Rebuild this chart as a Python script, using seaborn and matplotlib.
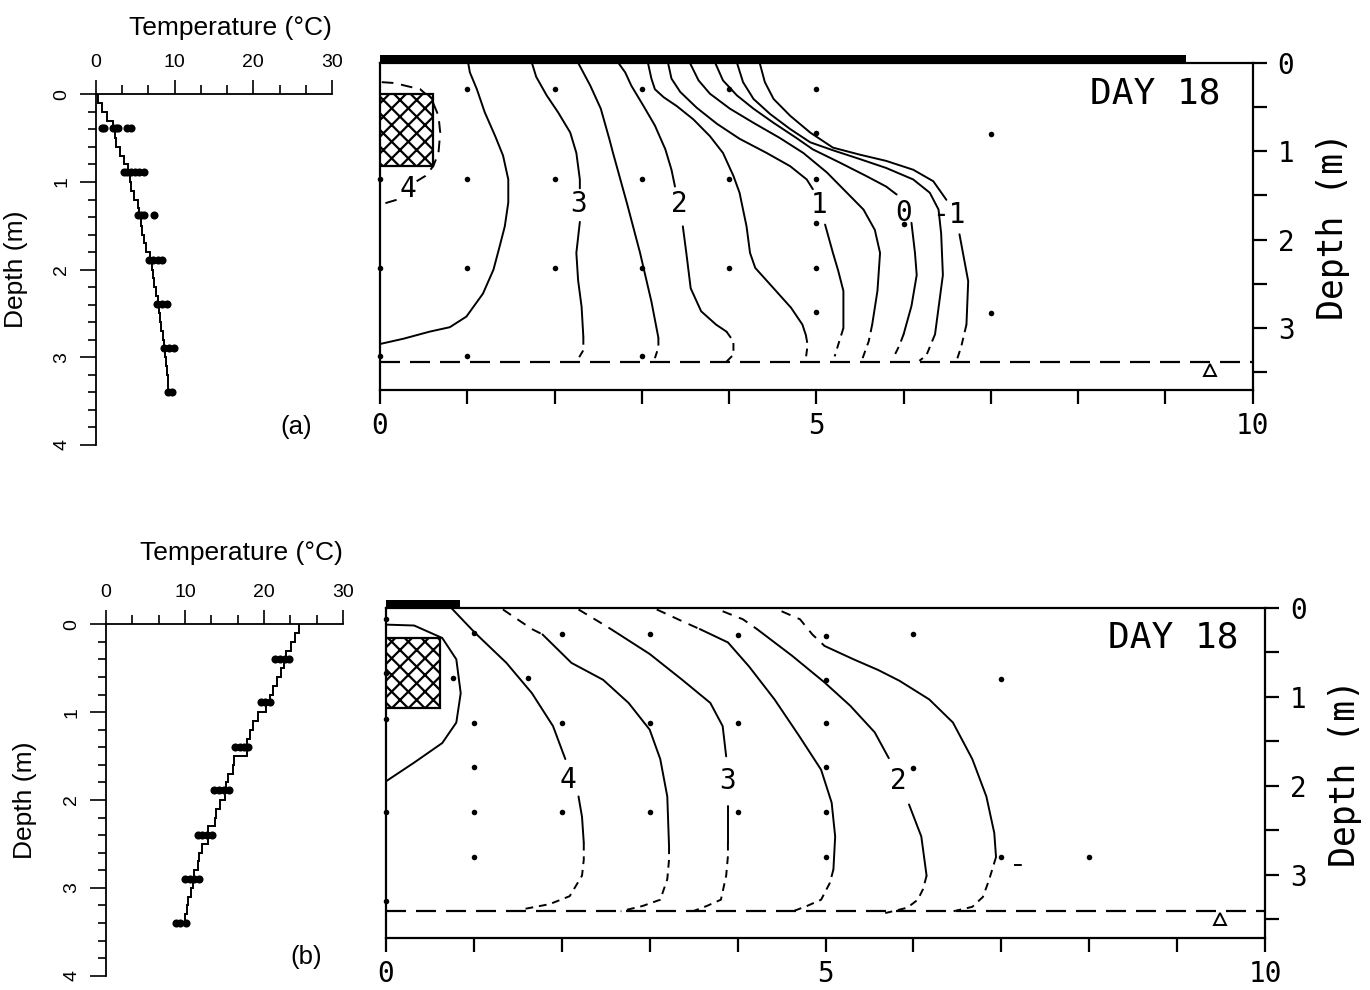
import matplotlib
matplotlib.use('Agg')
import matplotlib.pyplot as plt
import seaborn as sns
from matplotlib.patches import Rectangle
from matplotlib.ticker import MultipleLocator

# ------------------------------------------------------------------ data
# temperature profiles: 0.1 m layers (edges) and layer temperatures
prof_depth_edges = [0.0, 0.1, 0.2, 0.3, 0.4, 0.5, 0.6, 0.7, 0.8, 0.9, 1.0, 1.1, 1.2,
                    1.3, 1.4, 1.5, 1.6, 1.7, 1.8, 1.9, 2.0, 2.1, 2.2, 2.3, 2.4, 2.5,
                    2.6, 2.7, 2.8, 2.9, 3.0, 3.1, 3.2, 3.3, 3.4]
prof_a_temp = [0.2, 0.7, 1.4, 2.2, 2.4, 2.6, 3.1, 3.5, 4.1, 4.3, 4.5, 4.8, 5.3, 5.5,
               5.7, 5.9, 6.1, 6.4, 6.9, 7.1, 7.2, 7.4, 7.6, 7.9, 8.0, 8.1, 8.3, 8.5,
               8.7, 8.8, 8.9, 9.0, 9.1, 9.2]
prof_b_temp = [24.4, 23.9, 23.4, 22.8, 22.5, 22.2, 21.6, 21.2, 20.7, 20.2, 19.3, 18.6,
               18.2, 17.8, 17.8, 16.2, 16.1, 15.5, 15.2, 15.0, 14.4, 13.9, 13.8, 12.9,
               12.9, 12.2, 11.8, 11.7, 11.2, 11.0, 10.8, 10.4, 10.2, 10.0]

# measured temperatures (points) at probe depths
prof_a_levels = [0.39, 0.89, 1.38, 1.89, 2.39, 2.89, 3.39]
prof_a_level_temps = [[0.8, 1.0, 2.1, 2.5, 2.8, 4.0, 4.4],
                      [3.5, 4.0, 4.5, 5.0, 5.5, 6.1],
                      [5.3, 5.7, 6.1, 7.4],
                      [6.8, 7.3, 7.9, 8.4],
                      [7.8, 8.4, 9.0],
                      [8.7, 9.3, 9.9],
                      [9.1, 9.7]]
prof_b_levels = [0.39, 0.89, 1.40, 1.89, 2.40, 2.90, 3.40]
prof_b_level_temps = [[21.4, 22.0, 22.6, 23.2],
                      [19.6, 20.1, 20.7],
                      [16.3, 16.9, 17.5, 18.0],
                      [13.7, 14.3, 14.9, 15.6],
                      [11.6, 12.2, 12.8, 13.4],
                      [10.0, 10.6, 11.2, 11.8],
                      [8.8, 9.4, 10.1]]

# section (a): sensor positions
sec_a_dot_x = [0, 0, 0, 1, 1, 1, 1, 2, 2, 2, 3, 3, 3, 3, 4, 4, 4, 5, 5, 5, 5, 5, 5, 6, 7, 7]
sec_a_dot_d = [1.31, 2.32, 3.31, 0.30, 1.31, 2.32, 3.31, 0.30, 1.31, 2.32, 0.30, 1.31,
               2.32, 3.31, 0.30, 1.31, 2.32, 0.30, 0.80, 1.31, 1.81, 2.32, 2.82, 1.82,
               0.81, 2.83]
# section (b): sensor positions
sec_b_dot_x = [0, 0, 0, 0, 0, 0.76, 1, 1, 1, 1, 1, 1.62, 2, 2, 2, 3, 3, 3, 4, 4, 4,
               5, 5, 5, 5, 5, 5, 6, 6, 7, 7, 8]
sec_b_dot_d = [0.13, 0.73, 1.25, 2.30, 3.30, 0.79, 0.28, 1.30, 1.79, 2.30, 2.80, 0.79,
               0.30, 1.30, 2.30, 0.30, 1.30, 2.30, 0.31, 1.30, 2.30, 0.32, 0.81, 1.30,
               1.79, 2.30, 2.80, 0.30, 1.80, 0.80, 2.80, 2.80]

# section features
cover_a_extent = 9.23
cover_b_extent = 0.84
heater_a = (0.0, 0.61, 0.35, 1.17)   # x0, x1, d0, d1
heater_b = (0.0, 0.62, 0.34, 1.13)
water_a = 3.38
water_b = 3.41
marker_a = (9.51, 3.47)
marker_b = (9.49, 3.50)

# section (a) isotherms: solid pieces and dashed pieces (x, depth)
a_box_dash1 = ([0.02, 0.17, 0.29, 0.46, 0.59, 0.67, 0.69, 0.67, 0.61, 0.52, 0.42],
               [0.22, 0.23, 0.26, 0.30, 0.41, 0.60, 0.79, 1.02, 1.17, 1.28, 1.34])
a_box_dash2 = ([0.19, 0.02], [1.55, 1.60])
a35 = ([1.01, 1.03, 1.11, 1.20, 1.32, 1.41, 1.47, 1.47, 1.43, 1.37, 1.30, 1.18, 0.99,
        0.80, 0.57, 0.27, 0.0],
       [0.0, 0.11, 0.30, 0.56, 0.83, 1.05, 1.32, 1.58, 1.85, 2.08, 2.34, 2.61, 2.87,
        2.99, 3.04, 3.12, 3.18])
a3_s1 = ([1.74, 1.79, 1.91, 2.04, 2.18, 2.25, 2.29, 2.29],
         [0.0, 0.16, 0.37, 0.56, 0.79, 1.02, 1.32, 1.42])
a3_s2 = ([2.29, 2.25, 2.27, 2.31, 2.33], [1.80, 2.15, 2.46, 2.76, 3.10])
a3_d = ([2.33, 2.33, 2.27], [3.10, 3.25, 3.35])
a25_s = ([2.27, 2.41, 2.53, 2.63, 2.67, 2.83, 2.98, 3.02, 3.11, 3.19],
         [0.0, 0.26, 0.52, 0.87, 1.02, 1.59, 2.15, 2.32, 2.70, 3.11])
a25_d = ([3.19, 3.19, 3.15], [3.11, 3.22, 3.34])
a2_s1 = ([2.73, 2.81, 2.88, 3.02, 3.15, 3.27, 3.34, 3.38],
         [0.0, 0.11, 0.26, 0.49, 0.71, 0.98, 1.21, 1.40])
a2_s2 = ([3.47, 3.51, 3.56, 3.68, 3.85, 3.97], [1.85, 2.15, 2.55, 2.81, 2.96, 3.04])
a2_d = ([3.97, 4.05, 4.05, 3.97], [3.04, 3.15, 3.30, 3.38])
a15_s = ([3.07, 3.11, 3.15, 3.25, 3.40, 3.59, 3.78, 3.93, 4.05, 4.12, 4.20, 4.24, 4.30,
          4.51, 4.71, 4.84, 4.88],
         [0.0, 0.18, 0.30, 0.39, 0.49, 0.64, 0.83, 1.02, 1.28, 1.47, 1.85, 2.15, 2.32,
          2.55, 2.77, 2.96, 3.08])
a15_d = ([4.88, 4.90, 4.88], [3.08, 3.19, 3.34])
a1_s1 = ([3.30, 3.34, 3.44, 3.63, 3.86, 4.12, 4.43, 4.70, 4.89, 4.96],
         [0.0, 0.18, 0.33, 0.51, 0.69, 0.86, 1.02, 1.17, 1.32, 1.43])
a1_s2 = ([5.10, 5.19, 5.25, 5.31, 5.31], [1.83, 2.15, 2.35, 2.58, 3.0])
a1_d = ([5.31, 5.25, 5.21], [3.0, 3.19, 3.32])
a05_s = ([3.55, 3.65, 3.78, 4.01, 4.28, 4.58, 4.85, 5.12, 5.35, 5.54, 5.67, 5.73, 5.70,
          5.64],
         [0.0, 0.20, 0.35, 0.52, 0.68, 0.85, 1.02, 1.24, 1.47, 1.66, 1.89, 2.15, 2.58,
          2.96])
a05_d = ([5.64, 5.60, 5.53], [2.96, 3.15, 3.34])
a0_s1 = ([3.84, 3.93, 4.09, 4.28, 4.51, 4.77, 4.96, 5.27, 5.57, 5.80, 5.92],
         [0.0, 0.20, 0.37, 0.52, 0.68, 0.85, 0.98, 1.13, 1.28, 1.40, 1.49])
a0_s2 = ([6.09, 6.13, 6.15, 6.09, 6.0], [1.81, 2.15, 2.40, 2.75, 3.07])
a0_d = ([6.0, 5.95, 5.88], [3.07, 3.20, 3.34])
am05_s = ([4.09, 4.16, 4.28, 4.47, 4.70, 4.93, 5.19, 5.50, 5.80, 6.11, 6.30, 6.40, 6.43,
           6.45, 6.36],
          [0.0, 0.22, 0.41, 0.58, 0.75, 0.90, 0.99, 1.09, 1.19, 1.32, 1.47, 1.66, 1.93,
           2.40, 3.07])
am05_d = ([6.36, 6.26, 6.18], [3.07, 3.31, 3.37])
am1_s1 = ([4.35, 4.41, 4.51, 4.70, 4.93, 5.19, 5.50, 5.80, 6.11, 6.34, 6.49],
          [0.0, 0.22, 0.41, 0.60, 0.79, 0.96, 1.04, 1.11, 1.21, 1.34, 1.55])
am1_s2 = ([6.64, 6.74, 6.72], [1.94, 2.47, 2.96])
am1_d = ([6.72, 6.66, 6.61], [2.96, 3.21, 3.36])
a_labels = ['4', '3', '2', '1', '0', '-1']
a_label_x = [0.32, 2.27, 3.43, 5.03, 6.00, 6.52]
a_label_d = [1.43, 1.60, 1.60, 1.61, 1.70, 1.72]

# section (b) isotherms
b_box = ([0.0, 0.32, 0.64, 0.80, 0.85, 0.80, 0.64, 0.32, 0.0],
         [0.19, 0.20, 0.34, 0.58, 0.96, 1.29, 1.52, 1.74, 1.95])
b1_s1 = ([0.74, 1.01, 1.37, 1.66, 1.90, 2.04], [0.0, 0.28, 0.62, 0.96, 1.33, 1.70])
b1_s2 = ([2.19, 2.23, 2.25], [2.12, 2.35, 2.64])
b1_d = ([2.25, 2.25, 2.23, 2.09, 1.86, 1.54], [2.64, 2.83, 3.01, 3.24, 3.33, 3.39])
b2_d1 = ([1.33, 1.66, 1.78], [0.02, 0.24, 0.30])
b2_s = ([1.78, 2.11, 2.47, 2.76, 3.0, 3.12, 3.20, 3.22],
        [0.30, 0.62, 0.81, 1.07, 1.37, 1.70, 2.12, 2.68])
b2_d2 = ([3.22, 3.22, 3.20, 3.12, 2.92, 2.67], [2.68, 2.83, 3.05, 3.28, 3.35, 3.41])
b3_d1 = ([2.19, 2.51, 2.59], [0.02, 0.21, 0.26])
b3_s1 = ([2.59, 3.0, 3.37, 3.69, 3.83, 3.87], [0.26, 0.52, 0.81, 1.07, 1.33, 1.67])
b3_s2 = ([3.89, 3.89], [2.23, 2.64])
b3_d2 = ([3.89, 3.89, 3.87, 3.81, 3.65, 3.49], [2.64, 2.79, 3.01, 3.28, 3.35, 3.41])
b4_d1 = ([3.08, 3.41, 3.57], [0.02, 0.17, 0.24])
b4_s = ([3.57, 3.89, 4.13, 4.42, 4.70, 4.95, 5.07, 5.11, 5.09],
        [0.24, 0.39, 0.66, 1.03, 1.44, 1.82, 2.19, 2.57, 2.94])
b4_d2 = ([5.09, 5.05, 4.95, 4.79, 4.63], [2.94, 3.09, 3.28, 3.35, 3.41])
b5_d1 = ([3.83, 4.06, 4.22], [0.04, 0.13, 0.24])
b5_s1 = ([4.22, 4.62, 4.99, 5.28, 5.56, 5.72], [0.24, 0.54, 0.84, 1.10, 1.40, 1.69])
b5_s2 = ([5.95, 6.09, 6.15], [2.21, 2.57, 3.01])
b5_d2 = ([6.15, 6.11, 6.05, 5.93, 5.68], [3.01, 3.16, 3.28, 3.37, 3.43])
b6_d1 = ([4.50, 4.71, 4.85, 4.99], [0.04, 0.13, 0.30, 0.43])
b6_s = ([4.99, 5.32, 5.60, 5.84, 6.18, 6.45, 6.67, 6.83, 6.92, 6.94],
        [0.43, 0.58, 0.70, 0.82, 1.03, 1.29, 1.70, 2.12, 2.53, 2.80])
b6_d2 = ([6.94, 6.86, 6.79, 6.67, 6.41], [2.80, 3.06, 3.25, 3.36, 3.42])
b_extra = ([7.15, 7.28], [2.89, 2.89])
b_labels = ['4', '3', '2']
b_label_x = [2.07, 3.89, 5.83]
b_label_d = [1.93, 1.95, 1.95]

day_text = 'DAY 18'

# ------------------------------------------------------------------ style
sns.set_theme(style='white')
plt.rcParams['font.family'] = ['Liberation Sans', 'DejaVu Sans']
for k in ['text.color', 'axes.labelcolor', 'xtick.color', 'ytick.color',
          'axes.edgecolor', 'hatch.color']:
    plt.rcParams[k] = 'black'
plt.rcParams['hatch.linewidth'] = 1.6
MONO = 'DejaVu Sans Mono'

W, H = 1370, 990
fig = plt.figure(figsize=(13.7, 9.9), dpi=100)
fig.patch.set_facecolor('white')


def add_ax(l, r, t, b):
    return fig.add_axes([l / W, 1 - b / H, (r - l) / W, (b - t) / H])


def profile(ax, temps, levels, level_temps, tag, lab_y):
    ax.stairs(temps, prof_depth_edges, orientation='horizontal', baseline=None,
              color='black', lw=1.4)
    px, py = [], []
    for d, ts in zip(levels, level_temps):
        px += ts
        py += [d] * len(ts)
    sns.scatterplot(x=px, y=py, ax=ax, color='black', s=34, linewidth=0,
                    legend=False, clip_on=False, zorder=3)
    ax.set_xlim(0, 30)
    ax.set_ylim(4, 0)
    ax.set_facecolor('none')
    ax.xaxis.tick_top()
    ax.xaxis.set_label_position('top')
    for s in ['right', 'bottom']:
        ax.spines[s].set_visible(False)
    for s in ['left', 'top']:
        ax.spines[s].set_linewidth(1.3)
    ax.set_xticks([0, 10, 20, 30])
    ax.xaxis.set_minor_locator(MultipleLocator(10 / 3))
    ax.set_yticks([0, 1, 2, 3, 4])
    ax.yaxis.set_minor_locator(MultipleLocator(0.2))
    ax.tick_params(which='both', direction='out', width=1.2, labelsize=14,
                   top=True, bottom=False, left=True, right=False,
                   labeltop=True, labelbottom=False)
    ax.tick_params(axis='x', which='major', length=10, pad=7)
    ax.tick_params(axis='x', which='minor', length=6.5)
    ax.tick_params(axis='y', which='major', length=11.5, pad=7, labelrotation=90)
    ax.tick_params(axis='y', which='minor', length=6)
    for lab in ax.get_yticklabels():
        lab.set_va('center')
    ax.set_xlabel('Temperature (°C)', fontsize=19)
    ax.set_ylabel('Depth (m)', fontsize=19)
    ax.xaxis.set_label_coords(0.57, lab_y)
    ax.yaxis.set_label_coords(-0.29, 0.5)
    ax.text(25.4, 3.79, tag, fontsize=18.5, ha='center', va='center')


def solid(ax, seg):
    sns.lineplot(x=seg[0], y=seg[1], ax=ax, sort=False, estimator=None,
                 color='black', lw=1.4)


def dashed(ax, seg, pat=(4, 3)):
    ax.plot(seg[0], seg[1], color='black', lw=1.4, dashes=pat)


def section(ax, cover, heater, water, marker, ymax, day_xy):
    ax.add_patch(Rectangle((0, -0.085), cover, 0.085, facecolor='black',
                           edgecolor='none', clip_on=False, zorder=4))
    x0, x1, d0, d1 = heater
    ax.add_patch(Rectangle((x0, d0), x1 - x0, d1 - d0, facecolor='white',
                           edgecolor='black', hatch='xx', lw=1.6, zorder=3))
    ax.plot([0, 10], [water, water], color='black', lw=1.6, dashes=(9, 4.5))
    ax.plot([marker[0]], [marker[1]], marker='^', ms=9, mfc='white', mec='black',
            mew=1.4, ls='none')
    ax.text(day_xy[0], day_xy[1], day_text, family=MONO, fontsize=26, ha='right',
            va='center')
    ax.set_xlim(0, 10)
    ax.set_ylim(ymax, 0)
    ax.set_facecolor('white')
    for s in ax.spines.values():
        s.set_visible(True)
        s.set_linewidth(1.6)
    ax.set_xticks([0, 5, 10])
    ax.xaxis.set_minor_locator(MultipleLocator(1))
    ax.set_yticks([0, 1, 2, 3])
    ax.yaxis.set_minor_locator(MultipleLocator(0.5))
    ax.yaxis.tick_right()
    ax.yaxis.set_label_position('right')
    ax.tick_params(which='both', direction='out', length=10, width=1.6,
                   labelsize=20, labelfontfamily=MONO, bottom=True, top=False,
                   left=False, right=True, labelleft=False, labelright=True)
    ax.tick_params(axis='x', which='both', pad=6)
    ax.tick_params(axis='y', which='both', pad=8)
    ax.set_xlabel('')
    ax.set_ylabel('Depth (m)', fontsize=25, family=MONO)
    ax.yaxis.set_label_coords(1.072, 0.5)


# ------------------------------------------------------------------ axes
ax_pa = add_ax(96, 332, 94.3, 445)
ax_pb = add_ax(106, 343, 624.3, 975.7)
ax_sa = add_ax(380, 1252.7, 62.7, 390)
ax_sb = add_ax(386, 1265, 607.7, 938)

profile(ax_pa, prof_a_temp, prof_a_levels, prof_a_level_temps, '(a)', 1.17)
profile(ax_pb, prof_b_temp, prof_b_levels, prof_b_level_temps, '(b)', 1.183)

# section (a)
for seg in [a35, a3_s1, a3_s2, a25_s, a2_s1, a2_s2, a15_s, a1_s1, a1_s2, a05_s,
            a0_s1, a0_s2, am05_s, am1_s1, am1_s2]:
    solid(ax_sa, seg)
for seg in [a3_d, a25_d, a2_d, a15_d, a1_d, a05_d, a0_d, am05_d, am1_d]:
    dashed(ax_sa, seg)
dashed(ax_sa, a_box_dash1, (6, 4))
dashed(ax_sa, a_box_dash2, (6, 4))
sns.scatterplot(x=sec_a_dot_x, y=sec_a_dot_d, ax=ax_sa, color='black', s=16,
                linewidth=0, legend=False, clip_on=False, zorder=5)
for t, x, d in zip(a_labels, a_label_x, a_label_d):
    ax_sa.text(x, d, t, family=MONO, fontsize=20, ha='center', va='center')
section(ax_sa, cover_a_extent, heater_a, water_a, marker_a, 3.70, (9.63, 0.35))

# section (b)
solid(ax_sb, b_box)
for seg in [b1_s1, b1_s2, b2_s, b3_s1, b3_s2, b4_s, b5_s1, b5_s2, b6_s]:
    solid(ax_sb, seg)
for seg in [b1_d, b2_d2, b3_d2, b4_d2, b5_d2, b6_d2, b_extra]:
    dashed(ax_sb, seg)
for seg in [b2_d1, b3_d1, b4_d1, b5_d1, b6_d1]:
    dashed(ax_sb, seg, (5, 4))
sns.scatterplot(x=sec_b_dot_x, y=sec_b_dot_d, ax=ax_sb, color='black', s=16,
                linewidth=0, legend=False, clip_on=False, zorder=5)
for t, x, d in zip(b_labels, b_label_x, b_label_d):
    ax_sb.text(x, d, t, family=MONO, fontsize=20, ha='center', va='center')
section(ax_sb, cover_b_extent, heater_b, water_b, marker_b, 3.71, (9.70, 0.33))

fig.savefig('out.png', dpi=100, facecolor='white')
